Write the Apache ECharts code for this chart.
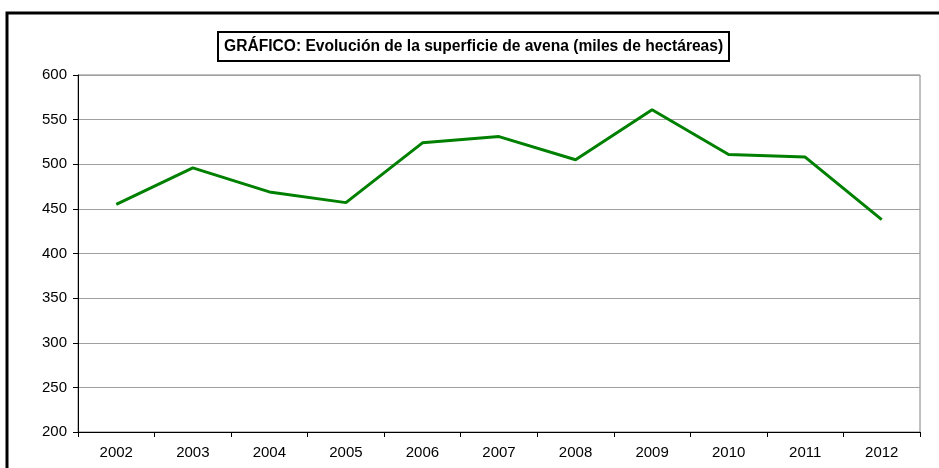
<!DOCTYPE html>
<html>
<head>
<meta charset="utf-8">
<script src="https://cdn.jsdelivr.net/npm/echarts@6/dist/echarts.min.js"></script>
<style>
  html, body { margin: 0; padding: 0; background: #fff; }
  #chart { width: 939px; height: 468px; }
</style>
</head>
<body>
<div id="chart"></div>
<script>
var years = ['2002', '2003', '2004', '2005', '2006', '2007', '2008', '2009', '2010', '2011', '2012'];
var superficie = [455, 496, 469, 457, 524, 531, 505, 561, 511, 508, 438];
var titleText = 'GRÁFICO: Evolución de la superficie de avena (miles de hectáreas)';

var myChart = echarts.init(document.getElementById('chart'));

var option = {
    backgroundColor: '#fff',
    animation: false,
    textStyle: { fontFamily: 'Liberation Sans, Arial, sans-serif' },
    graphic: [
        {
            type: 'rect',
            shape: { x: 7, y: 13, width: 1000, height: 600 },
            style: { fill: 'none', stroke: '#000', lineWidth: 3 },
            z: -1
        }
    ],
    title: {
        text: titleText,
        left: 218,
        top: 32,
        padding: [7, 6, 6, 6],
        borderColor: '#000',
        borderWidth: 2,
        textStyle: {
            fontSize: 15.6,
            fontWeight: 'bold',
            color: '#000',
            fontFamily: 'Liberation Sans, Arial, sans-serif'
        }
    },
    grid: {
        left: 78,
        right: 19,
        top: 75,
        bottom: 36,
        show: true,
        borderColor: '#808080',
        borderWidth: 1
    },
    xAxis: {
        type: 'category',
        data: years,
        boundaryGap: true,
        axisLine: { lineStyle: { color: '#000', width: 1 } },
        axisTick: { show: true, length: 5, lineStyle: { color: '#000' } },
        axisLabel: { color: '#000', fontSize: 15, margin: 13 }
    },
    yAxis: {
        type: 'value',
        min: 200,
        max: 600,
        interval: 50,
        axisLine: { show: true, lineStyle: { color: '#000', width: 1 } },
        axisTick: { show: true, length: 5, lineStyle: { color: '#000' } },
        axisLabel: { color: '#000', fontSize: 15, margin: 11 },
        splitLine: { lineStyle: { color: '#a0a0a0', width: 1 } }
    },
    series: [
        {
            name: 'Superficie',
            type: 'line',
            data: superficie,
            symbol: 'none',
            lineStyle: { color: '#008000', width: 3 }
        }
    ]
};

myChart.setOption(option);
</script>
</body>
</html>
